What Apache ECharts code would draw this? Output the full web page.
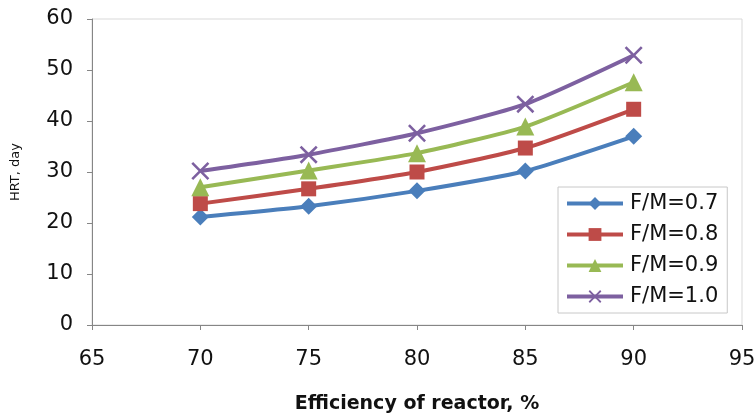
<!DOCTYPE html>
<html>
<head>
<meta charset="utf-8">
<script src="https://cdn.jsdelivr.net/npm/echarts@6/dist/echarts.min.js"></script>
<style>
  html, body { margin: 0; padding: 0; background: #fff; }
  #chart { width: 756px; height: 413px; }
</style>
</head>
<body>
<div id="chart"></div>
<script>
// Reactor efficiency (%) on x, hydraulic retention time (days) on y
const efficiency = [70, 75, 80, 85, 90];
const hrtFM07 = [21.2, 23.3, 26.3, 30.2, 37.0];
const hrtFM08 = [23.8, 26.7, 30.0, 34.7, 42.3];
const hrtFM09 = [27.0, 30.3, 33.7, 38.9, 47.6];
const hrtFM10 = [30.2, 33.4, 37.6, 43.3, 52.9];
const seriesNames = ['F/M=0.7', 'F/M=0.8', 'F/M=0.9', 'F/M=1.0'];

const pairs = (ys) => efficiency.map((x, i) => [x, ys[i]]);

// thin diagonal cross marker
const crossPath = 'path://M0,1 L1,0 L5,4 L9,0 L10,1 L6,5 L10,9 L9,10 L5,6 L1,10 L0,9 L4,5 Z';

const font = '"DejaVu Sans", sans-serif';
const chart = echarts.init(document.getElementById('chart'), null, { renderer: 'canvas' });

function lineSeries(name, ys, color, symbol, size) {
  return {
    name, type: 'line', data: pairs(ys), smooth: 0.2,
    symbol, symbolSize: size,
    lineStyle: { width: 4, color },
    itemStyle: { color },
    emphasis: { disabled: true }, z: 3
  };
}

chart.setOption({
  animation: false,
  backgroundColor: '#fff',
  grid: {
    left: 92, right: 14, top: 19, bottom: 88,
    containLabel: false, outerBoundsMode: 'none',
    show: true, borderColor: '#d9d9d9', borderWidth: 1
  },
  legend: {
    orient: 'vertical',
    left: 558, top: 187,
    itemWidth: 56, itemHeight: 16, itemGap: 10,
    padding: [6, 9, 6, 7],
    borderColor: '#c8c8c8', borderWidth: 1, backgroundColor: '#fff',
    lineStyle: { width: 4 },
    textStyle: { fontFamily: font, fontSize: 21, color: '#111', padding: [0, 0, 0, 2] },
    data: seriesNames
  },
  xAxis: {
    type: 'value', min: 65, max: 95, interval: 5,
    name: 'Efficiency of reactor, %', nameLocation: 'middle', nameGap: 70,
    nameTextStyle: { fontFamily: font, fontSize: 19, fontWeight: 'bold', color: '#111' },
    axisLine: { lineStyle: { color: '#868686', width: 1 } },
    axisTick: { show: true, length: 5, lineStyle: { color: '#868686' } },
    axisLabel: { fontFamily: font, fontSize: 21, color: '#111', margin: 24 },
    splitLine: { show: false }
  },
  yAxis: {
    type: 'value', min: 0, max: 60, interval: 10,
    name: 'HRT, day', nameLocation: 'middle', nameGap: 70, nameRotate: 90,
    nameTextStyle: { fontFamily: font, fontSize: 13, color: '#111' },
    axisLine: { show: true, lineStyle: { color: '#868686', width: 1 } },
    axisTick: { show: true, length: 5, lineStyle: { color: '#868686' } },
    axisLabel: { fontFamily: font, fontSize: 21, color: '#111', margin: 19 },
    splitLine: { show: false }
  },
  series: [
    lineSeries(seriesNames[0], hrtFM07, '#4a7ebb', 'diamond', 17),
    lineSeries(seriesNames[1], hrtFM08, '#be4b48', 'rect', 15),
    lineSeries(seriesNames[2], hrtFM09, '#98b954', 'triangle', 18),
    lineSeries(seriesNames[3], hrtFM10, '#7d60a0', crossPath, 18)
  ]
});
</script>
</body>
</html>
